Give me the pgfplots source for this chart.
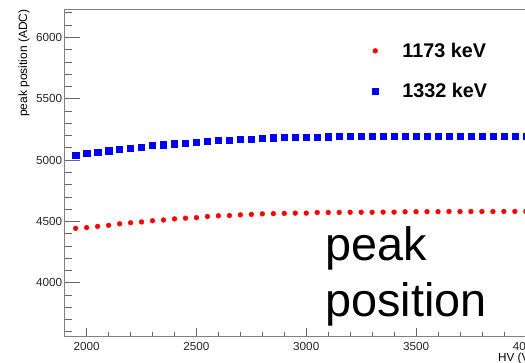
\documentclass[border=0pt]{standalone}
\usepackage{fontspec}
\setmainfont{Liberation Sans}
\usepackage{pgfplots}
\pgfplotsset{compat=1.18}
\usepackage{pgfplotstable}

\pgfplotsset{
  mylegend/.style={legend image code/.code={\draw[mark repeat=2,mark phase=2,##1] plot coordinates {(0pt,0pt)(13pt,0pt)(25pt,0pt)};}}
}

\pgfplotstableread{
hv peak
1950 4443
2000 4449
2050 4459
2100 4468
2150 4480
2200 4488
2250 4495
2300 4505
2350 4511
2400 4520
2450 4526
2500 4530
2550 4540
2600 4545
2650 4547
2700 4553
2750 4557
2800 4561
2850 4563
2900 4565
2950 4567
3000 4567
3050 4572
3100 4572
3150 4573
3200 4574
3250 4574
3300 4574
3350 4575
3400 4575
3450 4578
3500 4579
3550 4579
3600 4579
3650 4580
3700 4580
3750 4580
3800 4580
3850 4580
3900 4581
3950 4581
4000 4581
}\redtable

\pgfplotstableread{
hv peak
1950 5041
2000 5054
2050 5062
2100 5076
2150 5087
2200 5095
2250 5106
2300 5118
2350 5125
2400 5133
2450 5140
2500 5144
2550 5152
2600 5159
2650 5162
2700 5169
2750 5171
2800 5180
2850 5182
2900 5183
2950 5185
3000 5187
3050 5188
3100 5189
3150 5194
3200 5195
3250 5195
3300 5195
3350 5195
3400 5195
3450 5195
3500 5195
3550 5195
3600 5195
3650 5195
3700 5195
3750 5195
3800 5195
3850 5195
3900 5195
3950 5195
4000 5195
}\bluetable

\begin{document}
\begin{tikzpicture}
\pgfplotsset{
  common/.style={
    scale only axis, width=483.1pt, height=327.4pt,
    xmin=1900, xmax=4100, ymin=3560, ymax=6228,
    tick align=inside, tick pos=left,
    /pgf/number format/assume math mode=true,
    /pgf/number format/1000 sep={},
    scaled ticks=false,
    tick label style={font=\fontsize{11.7}{12}\selectfont, text=black!85},
    tick style={black!60, line width=0.6pt},
  }
}
\begin{axis}[common,
  xtick={2000,2500,...,4000},
  minor xtick={1900,2000,...,4100},
  ytick=\empty,
  major tick length=9pt, minor tick length=4.5pt,
  xticklabel style={anchor=north, inner sep=0pt, yshift=-5pt},
  axis line style={black!50, line width=0.6pt},
  xlabel={HV (V)},
  xlabel style={at={(axis description cs:0.897,0)}, anchor=north west, inner sep=0pt, yshift=-16.6pt, font=\fontsize{11.7}{12}\selectfont},
  ylabel={peak position (ADC)},
  ylabel style={at={(axis description cs:-0.0842,1)}, anchor=east, inner sep=0pt, font=\fontsize{12}{12}\selectfont},
  legend style={at={(axis description cs:0.636,0.898)}, anchor=north west, draw=none, fill=none, inner sep=0pt, column sep=24pt, row sep=24.8pt, font=\bfseries\fontsize{19.8}{20}\selectfont, nodes={inner sep=0pt}},
  legend cell align=left,
]
\addplot[only marks, mark=*, mark size=2.4pt, color=red, fill=red, mylegend]
  table[x=hv, y=peak] {\redtable};
\addlegendentry{1173 keV}
\addplot[only marks, mark=square*, mark size=3.1pt, color=blue, fill=blue, mylegend]
  table[x=hv, y=peak] {\bluetable};
\addlegendentry{1332 keV}
\end{axis}
\begin{axis}[common,
  xtick=\empty,
  ytick={4000,4500,...,6000},
  minor ytick={3600,3700,...,6200},
  major tick length=15pt, minor tick length=7.5pt,
  axis line style={draw=none},
  yticklabel style={anchor=east, inner sep=0pt, xshift=-2.4pt},
]
\end{axis}
\node[anchor=base west, inner sep=0pt, font=\fontsize{46.8}{46.8}\selectfont] at (260.3pt,76.7pt) {peak};
\node[anchor=base west, inner sep=0pt, font=\fontsize{46.8}{46.8}\selectfont] at (260.3pt,20pt) {position};
\pgfresetboundingbox
\useasboundingbox (-64.7pt,-25.3pt) rectangle (460.3pt,336.7pt);
\end{tikzpicture}
\end{document}
